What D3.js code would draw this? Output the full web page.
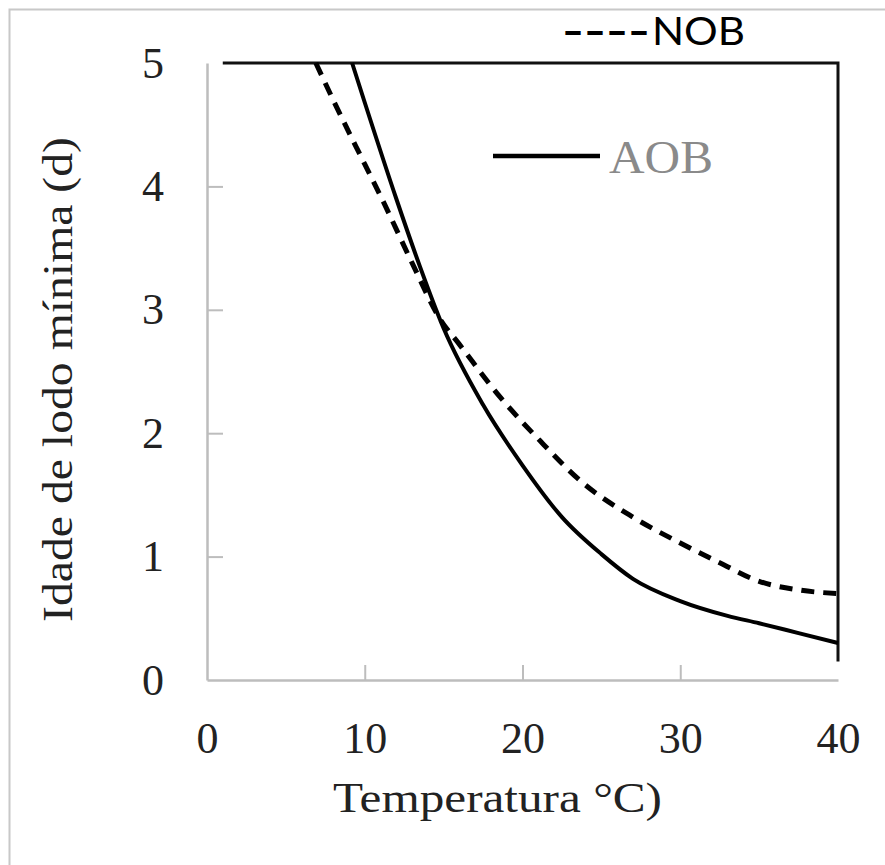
<!DOCTYPE html>
<html>
<head>
<meta charset="utf-8">
<script src="https://cdn.jsdelivr.net/npm/d3@7"></script>
<style>
  html, body { margin: 0; padding: 0; background: #fff; }
  svg { display: block; }
</style>
</head>
<body>
<div id="viz"></div>
<script>
// datos
const xTicks = [0, 10, 20, 30, 40];
const yTicks = [0, 1, 2, 3, 4, 5];

// AOB (línea continua)
const aobTemp = [9.2, 10, 12, 13.5, 15, 17.5, 20, 22.5, 25, 27, 30, 33, 35, 37.5, 40];
const aobAge  = [5.0, 4.68, 3.90, 3.35, 2.85, 2.23, 1.74, 1.32, 1.02, 0.82, 0.64, 0.52, 0.46, 0.38, 0.30];

// NOB (línea discontinua)
const nobTemp = [6.9, 8, 10, 11.2, 13, 14.8, 16, 18.6, 21.1, 23.8, 27, 30, 32.5, 35, 37.5, 40];
const nobAge  = [5.0, 4.7, 4.18, 3.87, 3.38, 2.92, 2.72, 2.29, 1.94, 1.60, 1.32, 1.11, 0.95, 0.80, 0.73, 0.70];

const legendNob = "NOB";
const legendAob = "AOB";
const xTitle = "Temperatura °C)";
const yTitle = "Idade de lodo mínima (d)";

(function(){
  const W = 885, H = 865;
  const margin = { left: 207, top: 63, right: 47, bottom: 185 };
  const width  = W - margin.left - margin.right;   // 631
  const height = H - margin.top - margin.bottom;   // 617

  const svg = d3.select("#viz").append("svg")
    .attr("width", W).attr("height", H);

  // marco exterior gris
  svg.append("rect")
    .attr("x", 9.5).attr("y", 9.5)
    .attr("width", 900).attr("height", 900)
    .attr("fill", "none").attr("stroke", "#c8c8c8").attr("stroke-width", 2);

  const g = svg.append("g").attr("transform", `translate(${margin.left},${margin.top})`);

  const x = d3.scaleLinear().domain([0, 40]).range([0, width]);
  const y = d3.scaleLinear().domain([0, 5]).range([height, 0]);

  const axisGray = "#bdbdbd";
  const tickFont = "'Liberation Serif', 'DejaVu Serif', serif";
  const fmt = d3.format("d");

  // eje x (ticks hacia dentro)
  const xAxis = g.append("g")
    .attr("transform", `translate(0,${height})`)
    .call(d3.axisBottom(x).tickValues(xTicks).tickFormat(fmt).tickSize(-15).tickPadding(42).tickSizeOuter(0));
  xAxis.select(".domain").attr("stroke", axisGray).attr("stroke-width", 2.5);
  xAxis.selectAll(".tick line").attr("stroke", axisGray).attr("stroke-width", 2);
  xAxis.selectAll(".tick text")
    .attr("font-family", tickFont).attr("font-size", 44).attr("fill", "#222");
  xAxis.selectAll(".tick").filter(d => d === 0 || d === 40).select("line").remove();

  // eje y (ticks hacia dentro)
  const yAxis = g.append("g")
    .call(d3.axisLeft(y).tickValues(yTicks).tickFormat(fmt).tickSize(-16).tickPadding(43).tickSizeOuter(0));
  yAxis.select(".domain").attr("stroke", axisGray).attr("stroke-width", 2.5);
  yAxis.selectAll(".tick line").attr("stroke", axisGray).attr("stroke-width", 2);
  yAxis.selectAll(".tick text")
    .attr("font-family", tickFont).attr("font-size", 44).attr("fill", "#222")
    .attr("text-anchor", "middle").attr("dx", -11);
  yAxis.selectAll(".tick").filter(d => d === 0 || d === 5).select("line").remove();

  // borde negro superior y derecho
  g.append("path")
    .attr("d", `M${x(1)},${y(5)}H${x(40)}V${y(0.15)}`)
    .attr("fill", "none").attr("stroke", "#111").attr("stroke-width", 3);

  const line = d3.line()
    .x(d => x(d[0]))
    .y(d => y(d[1]))
    .curve(d3.curveMonotoneX);

  const aob = aobTemp.map((t, i) => [t, aobAge[i]]);
  const nob = nobTemp.map((t, i) => [t, nobAge[i]]);

  g.append("path")
    .datum(nob)
    .attr("fill", "none").attr("stroke", "#000")
    .attr("stroke-width", 5)
    .attr("stroke-dasharray", "13 9")
    .attr("d", line);

  g.append("path")
    .datum(aob)
    .attr("fill", "none").attr("stroke", "#000")
    .attr("stroke-width", 4)
    .attr("d", line);

  // leyenda AOB (dentro del gráfico)
  svg.append("line")
    .attr("x1", 493).attr("x2", 600).attr("y1", 156).attr("y2", 156)
    .attr("stroke", "#000").attr("stroke-width", 4.5);
  svg.append("text")
    .attr("x", 609).attr("y", 173)
    .attr("font-family", tickFont)
    .attr("font-size", 46)
    .attr("fill", "#8a8a8a")
    .attr("textLength", 104).attr("lengthAdjust", "spacingAndGlyphs")
    .text(legendAob);

  // leyenda NOB (arriba)
  const nobText = svg.append("text")
    .attr("y", 45)
    .attr("font-family", "Lato, 'Open Sans', sans-serif")
    .attr("font-size", 39)
    .attr("fill", "#000");
  nobText.append("tspan")
    .attr("x", 562)
    .attr("textLength", 88).attr("lengthAdjust", "spacingAndGlyphs")
    .attr("font-weight", "bold")
    .text("----");
  nobText.append("tspan")
    .attr("x", 652)
    .attr("textLength", 93).attr("lengthAdjust", "spacingAndGlyphs")
    .text(legendNob);

  // títulos de ejes
  svg.append("text")
    .attr("x", 333).attr("y", 812)
    .attr("font-family", tickFont).attr("font-size", 42).attr("fill", "#222")
    .attr("textLength", 329).attr("lengthAdjust", "spacingAndGlyphs")
    .text(xTitle);

  svg.append("text")
    .attr("transform", "translate(72,622) rotate(-90)")
    .attr("font-family", tickFont).attr("font-size", 42).attr("fill", "#222")
    .attr("textLength", 485).attr("lengthAdjust", "spacingAndGlyphs")
    .text(yTitle);
})();
</script>
</body>
</html>
